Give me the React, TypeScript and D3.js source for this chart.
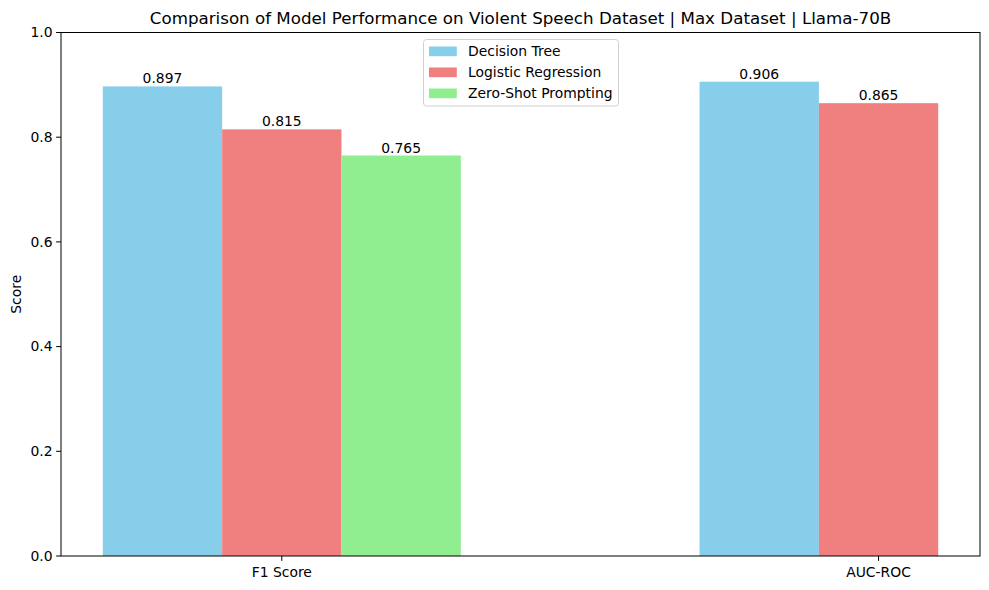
import React, { FC } from 'react';
import * as d3 from 'd3';

// chart data
const categories: string[] = ['F1 Score', 'AUC-ROC'];
const seriesNames: string[] = ['Decision Tree', 'Logistic Regression', 'Zero-Shot Prompting'];
const decisionTree: number[] = [0.897, 0.906];
const logisticRegression: number[] = [0.815, 0.865];
const zeroShot: (number | null)[] = [0.765, null];
const seriesColors: string[] = ['#87CEEB', '#F08080', '#90EE90'];
const yTicks: number[] = [0, 0.2, 0.4, 0.6, 0.8, 1.0];

const title = 'Comparison of Model Performance on Violent Speech Dataset | Max Dataset | Llama-70B';

const W = 989;
const H = 590;
const margin = { left: 61, top: 32.5, right: 9, bottom: 34 };
const barWidth = 0.2;
const font = 'DejaVu Sans, sans-serif';

const App: FC = () => {
  const series = [decisionTree, logisticRegression, zeroShot];

  const x = d3
    .scaleLinear()
    .domain([-0.37, 1.17])
    .range([margin.left, W - margin.right]);
  const y = d3
    .scaleLinear()
    .domain([0, 1])
    .range([H - margin.bottom, margin.top]);

  const bw = x(barWidth) - x(0);
  const x0 = margin.left;
  const x1 = W - margin.right;
  const y0 = H - margin.bottom;
  const y1 = margin.top;

  return (
    <svg
      width={W}
      height={H}
      style={{ position: 'absolute', left: 0, top: 0, background: '#fff' }}
      fontFamily={font}
    >
      <rect x={0} y={0} width={W} height={H} fill="#fff" />
      {/* bars */}
      {series.map((vals, si) =>
        vals.map((v, ci) => {
          if (v === null) return null;
          const left = x(ci + (si - 1) * barWidth - barWidth / 2);
          return (
            <g key={`${si}-${ci}`}>
              <rect x={left} y={y(v)} width={bw} height={y(0) - y(v)} fill={seriesColors[si]} />
              <text
                x={left + bw / 2}
                y={y(v) - 3}
                textAnchor="middle"
                fontSize={13.9}
                fill="#000"
              >
                {v.toFixed(3)}
              </text>
            </g>
          );
        })
      )}
      {/* spines */}
      <rect x={x0} y={y1} width={x1 - x0} height={y0 - y1} fill="none" stroke="#000" strokeWidth={1} />
      {/* y axis */}
      {yTicks.map((t) => (
        <g key={t}>
          <line x1={x0 - 4.9} x2={x0} y1={y(t)} y2={y(t)} stroke="#000" strokeWidth={1} />
          <text x={x0 - 8.5} y={y(t)} dy="0.35em" textAnchor="end" fontSize={13.9} fill="#000">
            {t.toFixed(1)}
          </text>
        </g>
      ))}
      {/* x axis */}
      {categories.map((c, i) => (
        <g key={c}>
          <line x1={x(i)} x2={x(i)} y1={y0} y2={y0 + 4.9} stroke="#000" strokeWidth={1} />
          <text x={x(i)} y={y0 + 21} textAnchor="middle" fontSize={13.9} fill="#000">
            {c}
          </text>
        </g>
      ))}
      <text
        transform={`translate(21, ${(y0 + y1) / 2}) rotate(-90)`}
        textAnchor="middle"
        fontSize={13.9}
        fill="#000"
      >
        Score
      </text>
      <text x={(x0 + x1) / 2} y={24} textAnchor="middle" fontSize={16.7} fill="#000">
        {title}
      </text>
      {/* legend */}
      <g transform="translate(423.5, 39.5)">
        <rect x={0} y={0} width={195} height={66.5} rx={3} fill="#fff" fillOpacity={0.8} stroke="#d0d0d0" />
        {seriesNames.map((s, i) => (
          <g key={s} transform={`translate(0, ${11.5 + i * 21})`}>
            <rect x={5.5} y={-4.5} width={27.8} height={9.7} fill={seriesColors[i]} />
            <text x={44.5} y={0} dy="0.35em" fontSize={13.9} fill="#000">
              {s}
            </text>
          </g>
        ))}
      </g>
    </svg>
  );
};

export default App;
